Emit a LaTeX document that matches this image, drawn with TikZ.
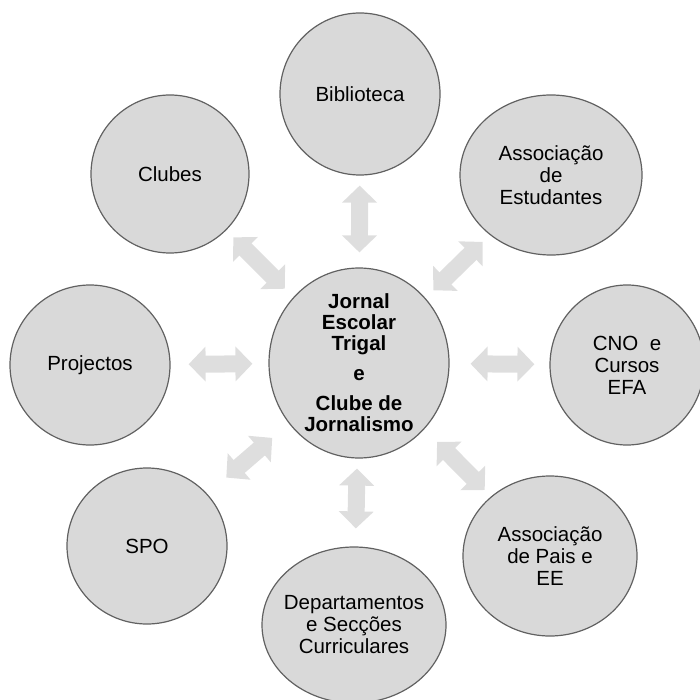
\documentclass[tikz,border=0pt]{standalone}
\usepackage{fontspec}
\setmainfont{Liberation Sans}
\usetikzlibrary{shapes.geometric, arrows.meta}

\begin{document}
\begin{tikzpicture}[x=1pt, y=-1pt,
    bubble/.style={ellipse, draw=black!62, fill=black!15, line width=1.2pt, inner sep=-15pt, align=center, font=\fontsize{20.5}{22}\selectfont},
    hub/.style={bubble, font=\fontsize{20.5}{21}\selectfont\bfseries},
    link/.style={{Triangle[length=17pt, width=34pt]}-{Triangle[length=17pt, width=34pt]}, line width=17pt, black!13},
]

\useasboundingbox (0,0) rectangle (700,700);

% Centre
\node[hub, minimum width=180pt, minimum height=190pt] (jornal) at (359,363) {Jornal\\Escolar\\Trigal\\[9pt]e\\[9pt]Clube de\\Jornalismo};

% Partners round it
\node[bubble, minimum width=160pt, minimum height=162pt] (bib) at (360,94) {Biblioteca};
\node[bubble, minimum width=158pt, minimum height=158pt] (clu) at (170,174) {Clubes};
\node[bubble, minimum width=182pt, minimum height=160pt] (aes) at (551,175) {Associação\\de\\Estudantes};
\node[bubble, minimum width=160pt, minimum height=160pt] (pro) at (90,365) {Projectos};
\node[bubble, minimum width=154pt, minimum height=160pt] (cno) at (627,365) {CNO~ e\\Cursos\\EFA};
\node[bubble, minimum width=160pt, minimum height=156pt] (spo) at (147,546) {SPO};
\node[bubble, minimum width=174pt, minimum height=160pt] (pai) at (550,556) {Associação\\de Pais e\\EE};
\node[bubble, minimum width=184pt, minimum height=156pt] (dep) at (354,625) {Departamentos\\e Secções\\Curriculares};

% Two-way links
\draw[link, shorten <=10pt, shorten >=15pt] (bib) -- (jornal);
\draw[link, shorten <=10pt, shorten >=12pt] (clu) -- (jornal);
\draw[link, shorten <=11pt, shorten >=10pt] (jornal) -- (aes);
\draw[link, shorten <=18pt, shorten >=16pt] (pro) -- (jornal);
\draw[link, shorten <=21pt, shorten >=15pt] (jornal) -- (cno);
\draw[link, shorten <=22pt, shorten >=25pt] (jornal) -- (spo);
\draw[link, shorten <=18pt, shorten >=9pt] (jornal) -- (pai);
\draw[link, shorten <=10pt, shorten >=18pt] (jornal) -- (dep);

\end{tikzpicture}
\end{document}
